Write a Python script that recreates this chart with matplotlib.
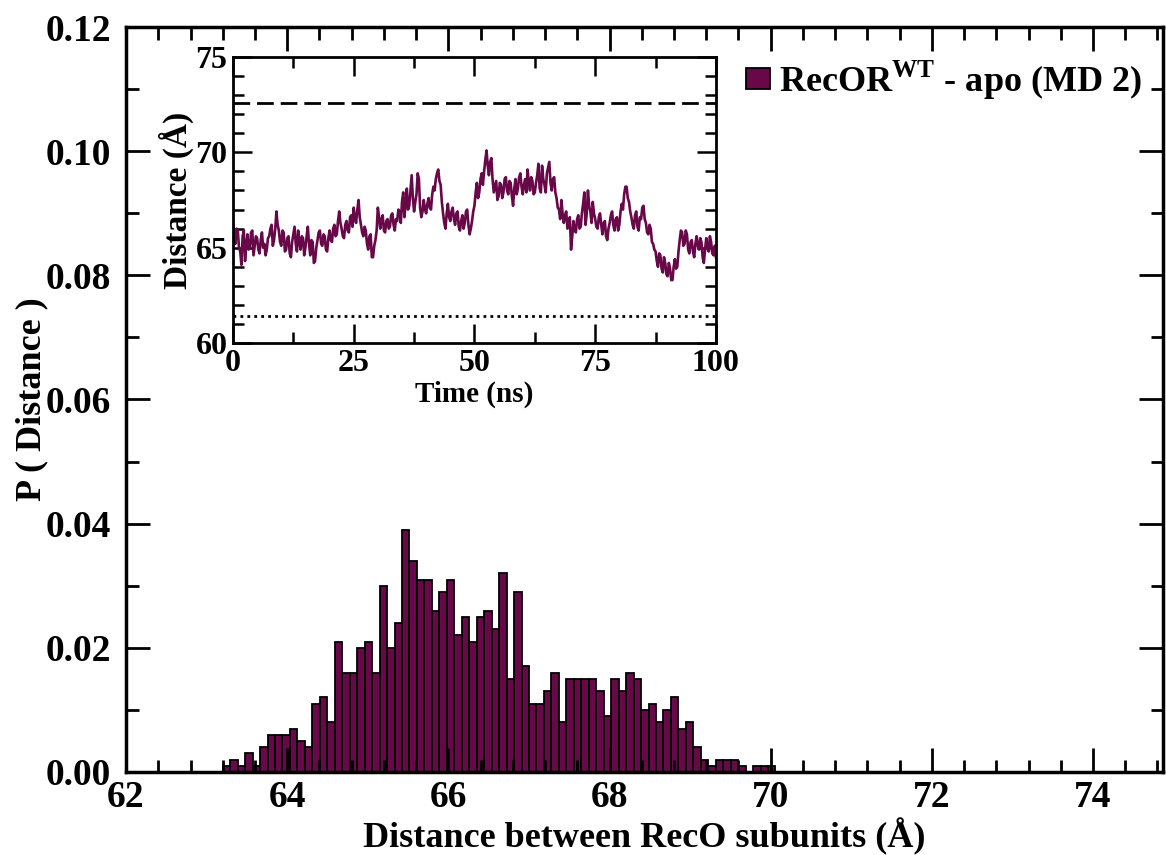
import numpy as np
import matplotlib
matplotlib.use("Agg")
import matplotlib.pyplot as plt
from matplotlib.ticker import MultipleLocator, FormatStrFormatter

plt.rcParams['font.family'] = ['Liberation Serif', 'DejaVu Serif']
plt.rcParams['font.weight'] = 'bold'
plt.rcParams['mathtext.fontset'] = 'custom'
plt.rcParams['mathtext.rm'] = 'Liberation Serif:bold'

# histogram counts (1000 frames), bins starting at 63.2 A
counts = [1, 2, 1, 3, 1, 4, 6, 6, 6, 7, 5,
          4, 11, 12, 8, 21, 16, 16, 20, 21, 16, 30, 20, 24,
          39, 34, 31, 31, 26, 29, 31, 22, 25, 21, 25, 26, 23,
          32, 15, 29, 17, 11, 11, 13, 16, 8, 15, 15, 15,
          15, 13, 9, 15, 13, 16, 15, 10, 11, 8, 10, 12, 7,
          8, 4, 2, 1, 2, 2, 2, 1, 0, 1, 1, 1]
bin_start = 63.2
bin_width = 0.0927

# distance vs time (every 0.25 ns)
dist_t = [
    66.3, 65.6, 65.2, 66.0, 65.9, 65.0, 64.8, 64.1, 65.6, 65.9, 64.3, 65.1, 65.7, 64.9, 65.0, 65.8, 65.9, 64.6, 65.1, 65.6,
    65.5, 64.9, 64.7, 65.4, 65.8, 65.0, 65.2, 64.6, 64.9, 65.5, 65.6, 66.0, 66.2, 65.1, 65.4, 66.0, 66.9, 66.2, 65.9, 65.3,
    65.1, 65.9, 65.8, 64.8, 64.9, 65.5, 65.6, 64.7, 64.5, 65.3, 65.7, 66.1, 65.2, 64.8, 65.9, 65.3, 64.9, 65.6, 65.5, 64.6,
    65.0, 65.6, 66.1, 65.2, 64.6, 65.4, 65.3, 64.2, 64.3, 65.0, 65.4, 65.8, 65.9, 65.2, 65.1, 65.7, 65.6, 64.9, 64.8, 65.5,
    65.9, 65.4, 65.3, 66.0, 66.2, 65.6, 65.7, 66.4, 66.9, 66.3, 66.0, 65.6, 65.5, 66.2, 66.4, 65.9, 65.8, 66.6, 66.7, 66.1,
    67.1, 66.5, 66.3, 67.0, 67.5, 66.6, 66.2, 65.8, 65.6, 66.1, 65.9, 65.2, 64.9, 65.6, 65.7, 64.5, 64.5, 65.1, 65.4, 65.9,
    67.1, 66.6, 66.0, 66.5, 66.7, 65.9, 65.8, 66.4, 66.5, 66.0, 66.1, 66.7, 66.8, 66.2, 65.9, 66.5, 66.4, 67.0, 66.9, 66.3,
    67.4, 67.9, 66.6, 67.3, 68.1, 67.0, 67.2, 68.0, 68.8, 67.6, 66.9, 67.4, 67.8, 68.9, 68.6, 67.1, 66.6, 66.9, 67.5, 67.0,
    66.8, 67.3, 67.6, 67.1, 67.0, 67.8, 68.2, 68.0, 68.6, 68.9, 69.1, 68.5, 68.3, 67.4, 66.8, 66.3, 66.0, 66.8, 67.3, 66.6,
    66.4, 66.9, 67.1, 66.5, 66.2, 66.8, 66.9, 66.1, 65.9, 66.4, 66.7, 66.0, 66.3, 66.9, 67.0, 66.2, 65.7, 66.0, 66.4, 66.9,
    67.2, 67.9, 68.4, 67.6, 67.9, 68.6, 68.9, 68.3, 69.0, 69.6, 70.1, 69.3, 68.8, 69.5, 69.7, 68.6, 67.9, 68.2, 68.5, 67.5,
    67.7, 68.4, 68.3, 67.6, 67.9, 68.6, 68.7, 68.0, 67.8, 68.5, 68.4, 67.7, 67.2, 68.1, 68.6, 67.8, 68.1, 68.7, 68.9, 68.2,
    67.8, 68.3, 68.6, 67.9, 69.1, 68.4, 68.0, 68.7, 68.5, 67.8, 67.9, 68.4, 68.8, 69.4, 68.1, 67.9, 69.3, 68.6, 68.3, 67.9,
    68.9, 69.2, 69.5, 68.4, 68.0, 68.6, 68.7, 67.9, 67.6, 67.1, 67.0, 66.5, 67.5, 66.8, 66.3, 66.7, 66.9, 66.0, 66.1, 66.6,
    64.9, 65.6, 66.4, 65.9, 65.8, 66.5, 66.7, 66.0, 66.1, 66.8, 67.3, 67.9, 66.2, 66.8, 68.0, 67.2, 66.9, 66.3, 67.4, 66.8,
    66.5, 66.1, 66.0, 66.6, 66.8, 66.2, 65.7, 66.3, 66.4, 65.6, 65.4, 66.0, 66.3, 66.7, 66.9, 66.2, 65.9, 66.5, 66.6, 65.9,
    66.2, 66.9, 67.3, 67.0, 67.8, 68.2, 68.2, 67.6, 67.4, 66.9, 66.6, 66.2, 66.0, 66.7, 66.9, 66.1, 65.9, 66.6, 66.5, 67.1,
    67.2, 66.5, 66.3, 65.8, 65.7, 66.2, 66.0, 65.3, 65.2, 64.9, 64.8, 64.3, 64.0, 64.7, 64.6, 63.9, 63.7, 64.5, 64.2, 63.6,
    63.5, 64.2, 63.9, 63.3, 63.3, 64.0, 64.4, 63.9, 64.0, 64.8, 65.4, 65.9, 65.8, 65.1, 65.2, 65.9, 65.7, 64.9, 64.7, 65.3,
    65.4, 64.8, 64.5, 65.2, 65.6, 65.1, 64.9, 65.5, 65.3, 64.5, 64.2, 64.9, 65.5, 65.0, 64.8, 65.6, 65.3, 64.7, 64.6, 65.1,
    64.5]
time_ns = np.linspace(0, 100, len(dist_t))
ref_open = 72.6
ref_closed = 61.4

color = '#680848'

fig = plt.figure(figsize=(11.66, 8.55), dpi=100)
ax = fig.add_axes([0.1081, 0.0971, 0.8894, 0.8713])

prob = np.array(counts) / sum(counts)
edges = bin_start + bin_width * np.arange(len(counts))
ax.bar(edges, prob, width=bin_width, align='edge', color=color,
       edgecolor='black', linewidth=1.3, label=r'RecOR$^{\mathregular{WT}}$ - apo (MD 2)')

ax.set_xlim(62, 74.87)
ax.set_ylim(0, 0.12)
ax.xaxis.set_major_locator(MultipleLocator(2))
ax.xaxis.set_minor_locator(MultipleLocator(0.4))
ax.yaxis.set_major_locator(MultipleLocator(0.02))
ax.yaxis.set_minor_locator(MultipleLocator(0.01))
ax.yaxis.set_major_formatter(FormatStrFormatter('%.2f'))
ax.tick_params(which='both', direction='in', top=True, right=True, width=2, labelsize=27)
ax.tick_params(which='major', length=17)
ax.tick_params(which='minor', length=9)
ax.tick_params(axis='y', which='major', pad=11)
ax.tick_params(axis='x', which='major', pad=6)
for s in ax.spines.values():
    s.set_linewidth(2.5)
ax.set_xlabel('Distance between RecO subunits (Å)', fontsize=26, fontweight='bold', labelpad=2)
ax.set_ylabel('P ( Distance )', fontsize=26, fontweight='bold', labelpad=-2)

leg = ax.legend(loc='center right', bbox_to_anchor=(0.997, 0.929), frameon=False, borderpad=0,
                fontsize=26, handlelength=0.65, handleheight=0.5, handletextpad=0.25)

# inset
ins = fig.add_axes([0.1998, 0.5988, 0.4142, 0.3345])
ins.plot(time_ns, dist_t, color=color, linewidth=1.9)
ins.axhline(ref_open, color='black', linestyle=(0, (6, 2.5)), linewidth=2)
ins.axhline(ref_closed, color='black', linestyle=(0, (1, 1.5)), linewidth=2)
ins.set_xlim(0, 100)
ins.set_ylim(60, 75)
ins.xaxis.set_major_locator(MultipleLocator(25))
ins.xaxis.set_minor_locator(MultipleLocator(12.5))
ins.yaxis.set_major_locator(MultipleLocator(5))
ins.yaxis.set_minor_locator(MultipleLocator(1))
ins.tick_params(which='both', direction='in', top=True, right=True, width=1.8, labelsize=23)
ins.tick_params(which='major', length=14, pad=4)
ins.tick_params(which='minor', length=8)
for s in ins.spines.values():
    s.set_linewidth(2)
ins.set_xlabel('Time (ns)', fontsize=21, fontweight='bold', labelpad=2)
ins.set_ylabel('Distance (Å)', fontsize=24, fontweight='bold', labelpad=1)

fig.savefig('out.png', dpi=100)
